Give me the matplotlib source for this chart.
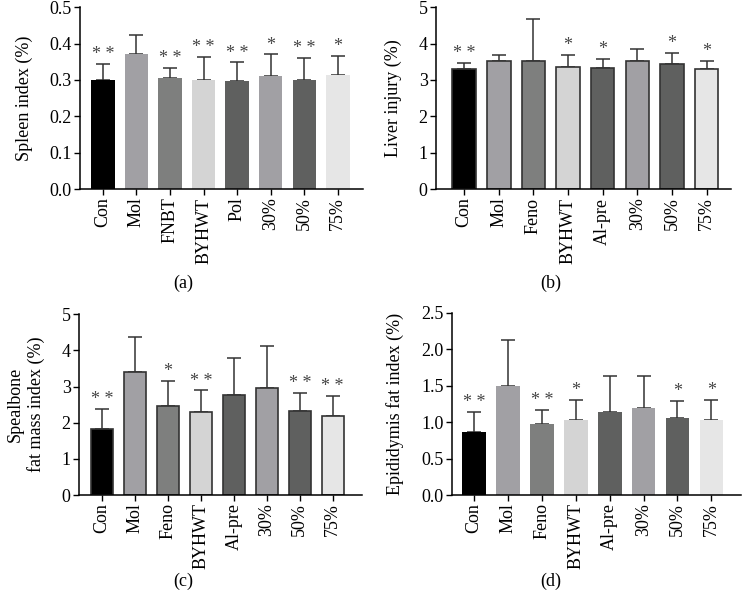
import matplotlib.pyplot as plt
import numpy as np

plt.rcParams['font.family'] = ['Liberation Serif', 'DejaVu Serif']

labels_a = ['Con', 'Mol', 'FNBT', 'BYHWT', 'Pol', '30%', '50%', '75%']
labels_b = ['Con', 'Mol', 'Feno', 'BYHWT', 'Al-pre', '30%', '50%', '75%']

spleen = [0.30, 0.370, 0.305, 0.299, 0.296, 0.310, 0.299, 0.313]
spleen_err = [0.045, 0.054, 0.028, 0.064, 0.052, 0.060, 0.062, 0.052]
spleen_sig = ['**', '', '**', '**', '**', '*', '**', '*']

liver = [3.29, 3.52, 3.52, 3.36, 3.33, 3.52, 3.45, 3.30]
liver_err = [0.18, 0.16, 1.16, 0.32, 0.24, 0.32, 0.30, 0.21]
liver_sig = ['**', '', '', '*', '*', '', '*', '*']

spealbone = [1.82, 3.39, 2.45, 2.30, 2.77, 2.97, 2.33, 2.19]
spealbone_err = [0.55, 0.97, 0.70, 0.59, 1.02, 1.14, 0.50, 0.55]
spealbone_sig = ['**', '', '*', '**', '', '', '**', '**']

epid = [0.867, 1.50, 0.98, 1.037, 1.147, 1.19, 1.06, 1.037]
epid_err = [0.28, 0.63, 0.19, 0.273, 0.49, 0.44, 0.23, 0.273]
epid_sig = ['**', '', '**', '*', '', '', '*', '*']

colors = ['#000000', '#a1a0a4', '#7e7f7e', '#d4d4d4', '#5f605f', '#a1a0a4', '#5f605f', '#e6e6e6']

fig = plt.figure(figsize=(7.42, 5.95), dpi=100)
W, H = 742, 595

panels = [
    # rect, labels, vals, errs, sig, ylim, yticks, fmt, ylabel, edge, xlim, tag, tag position
    ([0.1078, 0.682, 0.381, 0.306], labels_a, spleen, spleen_err, spleen_sig,
     0.5, np.arange(0, 0.51, 0.1), '%.1f', 'Spleen index (%)', None, (-0.68, 7.74), '(a)', (183, 283)),
    ([0.5876, 0.682, 0.397, 0.306], labels_b, liver, liver_err, liver_sig,
     5, np.arange(0, 6, 1), '%d', 'Liver injury (%)', '#333333', (-0.81, 7.69), '(b)', (551, 283)),
    ([0.1065, 0.168, 0.381, 0.304], labels_b, spealbone, spealbone_err, spealbone_sig,
     5, np.arange(0, 6, 1), '%d', 'Spealbone\nfat mass index (%)', '#333333', (-0.70, 7.88), '(c)', (183, 581)),
    ([0.609, 0.168, 0.390, 0.306], labels_b, epid, epid_err, epid_sig,
     2.5, np.arange(0, 2.51, 0.5), '%.1f', 'Epididymis fat index (%)', None, (-0.65, 7.88), '(d)', (551, 581)),
]

for rect, labs, vals, errs, sig, ytop, yt, fmt, ylab, edge, xl, tag, tpos in panels:
    ax = fig.add_axes(rect)
    x = np.arange(len(vals))
    if edge:
        ax.bar(x, vals, width=0.68, color=colors, edgecolor=edge, linewidth=1.2, zorder=2)
    else:
        ax.bar(x, vals, width=0.70, color=colors, linewidth=0, zorder=2)
    ax.errorbar(x, vals, yerr=[np.zeros(len(vals)), errs], fmt='none',
                ecolor='#333333', elinewidth=1.1, capsize=5, capthick=1.1, zorder=1)
    for xi, v, e, s in zip(x, vals, errs, sig):
        if s:
            ax.text(xi, v + e + ytop * 0.005, ' '.join(s), ha='center', va='bottom',
                    fontsize=13, color='#444444')
    ax.set_xlim(*xl)
    ax.set_ylim(0, ytop)
    ax.set_yticks(yt)
    ax.set_yticklabels([fmt % t for t in yt], fontsize=13)
    ax.set_xticks(x)
    ax.set_xticklabels(labs, rotation=90, fontsize=13)
    ax.set_ylabel(ylab, fontsize=13, labelpad=12)
    for sp in ['top', 'right']:
        ax.spines[sp].set_visible(False)
    for sp in ['left', 'bottom']:
        ax.spines[sp].set_linewidth(1.1)
    ax.tick_params(direction='out', length=4, width=1.0, pad=2)
    fig.text(tpos[0] / W, 1 - tpos[1] / H, tag, ha='center', va='center', fontsize=13)

fig.savefig('out.png', dpi=100)
